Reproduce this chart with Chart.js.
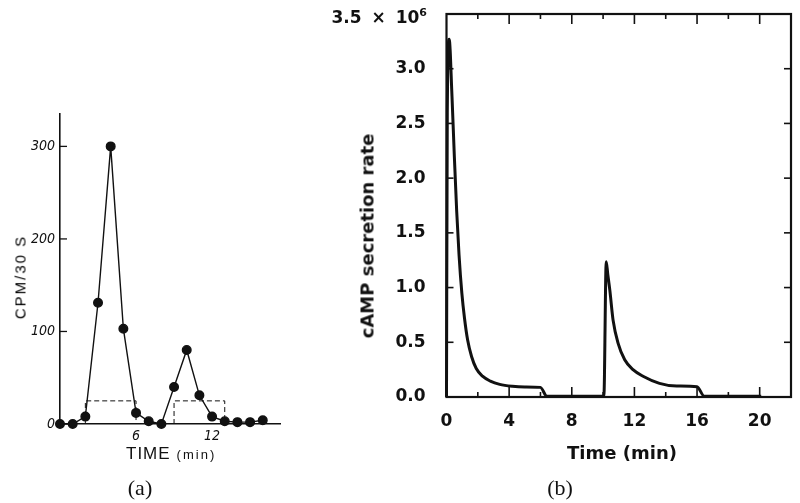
<!DOCTYPE html>
<html><head><meta charset="utf-8">
<script src="https://cdn.jsdelivr.net/npm/chart.js@4.4.1/dist/chart.umd.min.js"></script>
<style>
html,body{margin:0;padding:0;background:#fff;width:800px;height:503px;overflow:hidden}
.box{position:absolute;}
.lbl{position:absolute;color:#111;white-space:nowrap;line-height:1;}
</style></head><body>
<div class="box" style="left:0;top:0;width:300px;height:503px"><canvas id="ca" width="300" height="503"></canvas></div>
<div class="box" style="left:300px;top:0;width:500px;height:503px"><canvas id="cb" width="500" height="503"></canvas></div>

<div class="lbl" style="left:20px;top:277px;transform:translate(-50%,-50%) rotate(-90deg);font:15px 'Liberation Sans',sans-serif;letter-spacing:2px;color:#000;">CPM/30 S</div>
<div class="lbl" style="left:126px;top:445px;font-family:'Liberation Sans',sans-serif;"><span style="font-size:17px;letter-spacing:1px">TIME</span><span style="font-size:13px;letter-spacing:2px;margin-left:6px">(min)</span></div>
<div class="lbl" style="left:140px;top:488px;transform:translate(-50%,-50%);font:22px 'Liberation Serif',serif;">(a)</div>

<div class="lbl" style="left:367px;top:236px;transform:translate(-50%,-50%) rotate(-90deg);font:bold 18px 'DejaVu Sans',sans-serif;">cAMP secretion rate</div>
<div class="lbl" style="left:622px;top:452px;transform:translate(-50%,-50%);font:bold 18px 'DejaVu Sans',sans-serif;">Time (min)</div>
<div class="lbl" style="left:560px;top:488px;transform:translate(-50%,-50%);font:22px 'Liberation Serif',serif;">(b)</div>
<div class="lbl" style="right:373px;top:16px;transform:translateY(-50%);font:bold 17px 'DejaVu Sans',sans-serif;word-spacing:4px;">3.5 × 10<sup style="font-size:11px;vertical-align:7px">6</sup></div>

<script>
// ---- panel (a): measured counts ----
const timeA = [0,1,2,3,4,5,6,7,8,9,10,11,12,13,14,15,16];
const cpmA  = [0,0,8,131,300,103,12,3,0,40,80,31,8,3,2,2,4];
// stimulus pulses (dashed)
const pulseTime  = [2,2,6,6,null,9,9,13,13];
const pulseLevel = [0,25,25,0,null,0,25,25,0];
const ticksAx = [6,12];
const ticksAy = [0,100,200,300];
const marksAy = [100,200,300];

// ---- panel (b): simulated secretion rate (x 10^6) ----
const timeB = [0,0.05,0.17,0.35,0.5,0.65,0.8,0.98,1.15,1.35,1.6,1.9,2.3,2.8,3.4,4.2,5.0,6.0,6.4,7.0,8.0,9.0,10.05,
               10.2,10.3,10.43,10.64,10.96,11.38,11.91,12.55,13.6,14.7,16.0,16.45,17.0,18.0,19.0,20.1];
const rateB = [0,2.6,3.27,2.75,2.2,1.7,1.3,0.95,0.72,0.52,0.37,0.26,0.19,0.145,0.115,0.098,0.092,0.088,0.008,0.006,0.006,0.006,0.006,
               1.235,1.12,0.976,0.70,0.49,0.34,0.25,0.19,0.125,0.10,0.094,0.008,0.006,0.006,0.006,0.006];
const ticksBx = [0,4,8,12,16,20];
const ticksBy = [0,0.5,1,1.5,2,2.5,3];
const marksBx = [2,4,6,8,10,12,14,16,18,20];
const marksBy = [0.5,1,1.5,2,2.5,3];

const INK = '#111';

function tickMarks(cfg){
  return {
    id:'tickMarks',
    afterDraw(chart){
      const ctx = chart.ctx, a = chart.chartArea, xs = chart.scales.x, ys = chart.scales.y;
      ctx.save();
      ctx.strokeStyle = INK;
      const ln = (x1,y1,x2,y2)=>{ctx.beginPath();ctx.moveTo(x1,y1);ctx.lineTo(x2,y2);ctx.stroke();};
      if (cfg.frame){ ctx.lineWidth = cfg.frame; ctx.strokeRect(a.left,a.top,a.right-a.left,a.bottom-a.top); }
      ctx.lineWidth = cfg.width;
      (cfg.yLeft||[]).forEach(v=>{const y=ys.getPixelForValue(v); ln(a.left,y,a.left+cfg.len,y);});
      (cfg.yRight||[]).forEach(v=>{const y=ys.getPixelForValue(v); ln(a.right,y,a.right-cfg.len,y);});
      (cfg.xTop||[]).forEach(v=>{const x=xs.getPixelForValue(v); const l = v%4===0?cfg.major:cfg.minor; ln(x,a.top,x,a.top+l);});
      (cfg.xBottom||[]).forEach(v=>{const x=xs.getPixelForValue(v); const l = v%4===0?cfg.major:cfg.minor; ln(x,a.bottom,x,a.bottom-l);});
      ctx.restore();
    }
  };
}

const fix = (vals)=> (s)=>{ s.ticks = vals.map(v=>({value:v})); };

// ---------- chart (a) ----------
new Chart(document.getElementById('ca'), {
  type:'line',
  data:{ datasets:[
    { data: timeA.map((t,i)=>({x:t,y:cpmA[i]})), borderColor:INK, backgroundColor:INK, borderWidth:1.4,
      pointRadius:4.3, pointHoverRadius:4.3, tension:0, clip:false },
    { data: pulseTime.map((t,i)=>({x:t,y:pulseLevel[i]})), borderColor:INK, borderWidth:1, borderDash:[5,3],
      pointRadius:0, spanGaps:false, tension:0, clip:false }
  ]},
  options:{
    responsive:false, animation:false, events:[],
    layout:{ padding:{ left:0, top:114, right:19.5, bottom:49 } },
    plugins:{ legend:{display:false}, tooltip:{enabled:false} },
    scales:{
      x:{ type:'linear', min:0, max:17.4,
          afterBuildTicks: fix(ticksAx), afterFit:(s)=>{s.height=30;},
          grid:{display:true, drawOnChartArea:false, drawTicks:false},
          border:{color:INK, width:1.6},
          ticks:{ color:INK, padding:4, maxRotation:0, font:{family:"'Liberation Sans Narrow','DejaVu Sans Condensed','Liberation Sans'", size:14, style:'italic'} } },
      y:{ type:'linear', min:0, max:335,
          afterBuildTicks: fix(ticksAy), afterFit:(s)=>{s.width=60; s.paddingTop=0;},
          grid:{display:true, drawOnChartArea:false, drawTicks:false},
          border:{color:INK, width:1.6},
          ticks:{ color:INK, padding:5, font:{family:"'Liberation Sans Narrow','DejaVu Sans Condensed','Liberation Sans'", size:14, style:'italic'} } }
    }
  },
  plugins:[tickMarks({ yLeft: marksAy, len:7, width:1.3 })]
});

// ---------- chart (b) ----------
new Chart(document.getElementById('cb'), {
  type:'line',
  data:{ datasets:[
    { data: timeB.map((t,i)=>({x:t,y:rateB[i]})), borderColor:INK, borderWidth:3, pointRadius:0,
      cubicInterpolationMode:'monotone', borderJoinStyle:'round', clip:false }
  ]},
  options:{
    responsive:false, animation:false, events:[],
    layout:{ padding:{ left:0, top:14, right:9, bottom:66 } },
    plugins:{ legend:{display:false}, tooltip:{enabled:false} },
    scales:{
      x:{ type:'linear', min:0, max:22,
          afterBuildTicks: fix(ticksBx), afterFit:(s)=>{s.height=40;},
          grid:{display:true, drawOnChartArea:false, drawTicks:false},
          border:{display:false},
          ticks:{ color:INK, padding:14, maxRotation:0, font:{family:"'DejaVu Sans'", size:17, weight:'bold'} } },
      y:{ type:'linear', min:0, max:3.5,
          afterBuildTicks: fix(ticksBy), afterFit:(s)=>{s.width=146.5; s.paddingTop=0; s.paddingBottom=0;},
          grid:{display:true, drawOnChartArea:false, drawTicks:false},
          border:{display:false},
          ticks:{ color:INK, padding:21, callback:(v)=>Number(v).toFixed(1), font:{family:"'DejaVu Sans'", size:17, weight:'bold'} } }
    }
  },
  plugins:[tickMarks({ frame:2.2, yLeft:marksBy, yRight:marksBy, xTop:marksBx, xBottom:marksBx, len:7, major:10, minor:5, width:1.6 })]
});
</script>
</body></html>
